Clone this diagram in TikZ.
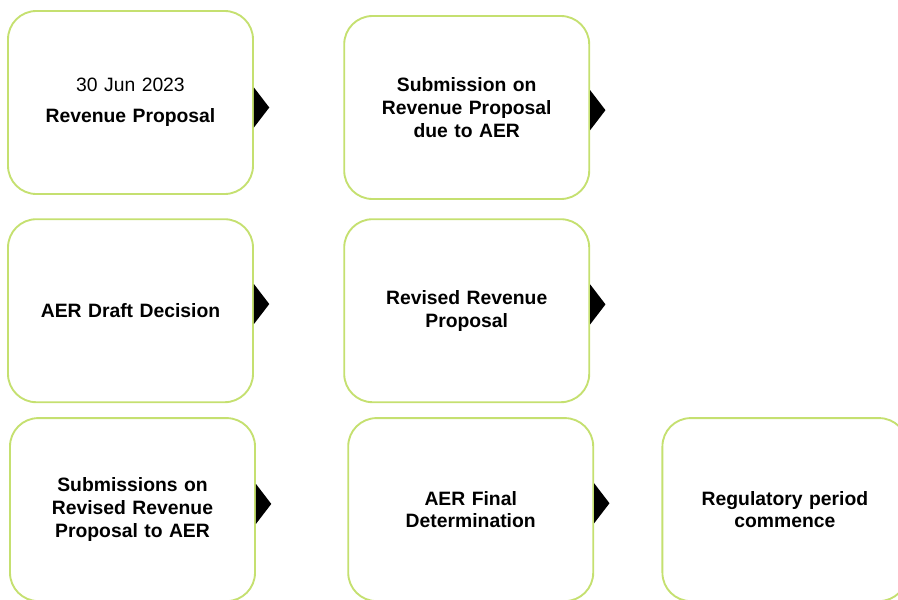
\documentclass[tikz,border=0pt]{standalone}
\usepackage{fontspec}
\setmainfont{Liberation Sans}
\usepackage{xcolor}
\usepackage{tikz}
\usetikzlibrary{positioning}
\definecolor{stagegreen}{RGB}{197,224,112}
\tikzset{
  stage/.style={rectangle, rounded corners=0.85cm, minimum width=7.35cm, minimum height=5.49cm, text width=6.6cm, align=center, draw=stagegreen, line width=1.6pt, fill=white, font=\fontsize{16.5}{19.6}\selectfont\bfseries},
  marker/.style={fill=black}
}

\begin{document}
\begin{tikzpicture}[node distance=2.68cm]
    \useasboundingbox (0,0) rectangle (26.94,-17.97);
    % Nodes
    \node[stage] (proposal) at (3.915,-3.075) {{\mdseries 30 Jun 2023}\\[7pt] Revenue Proposal};
    \node[stage, right=of proposal, yshift=-0.15cm] (submission) {Submission on\\ Revenue Proposal\\ due to AER};
    \node[stage, below=0.7cm of proposal] (draft) {AER Draft Decision};
    \node[stage, right=of draft] (revised) {Revised Revenue\\ Proposal};
    \node[stage, below=0.42cm of draft, xshift=0.06cm] (revsub) {Submissions on\\ Revised Revenue\\ Proposal to AER};
    \node[stage, right=2.74cm of revsub] (final) {AER Final\\ Determination};
    \node[stage, right=2.02cm of final] (period) {Regulatory period\\ commence};

    % Arrow markers
    \foreach \n/\dy in {proposal/-0.15, submission/-0.08, draft/0.2, revised/0.19, revsub/0.17, final/0.19}
      \fill[marker] ([yshift=\dy cm]\n.east) ++(0,0.6) -- ++(0.46,-0.6) -- ++(-0.46,-0.6) -- cycle;
\end{tikzpicture}
\end{document}
